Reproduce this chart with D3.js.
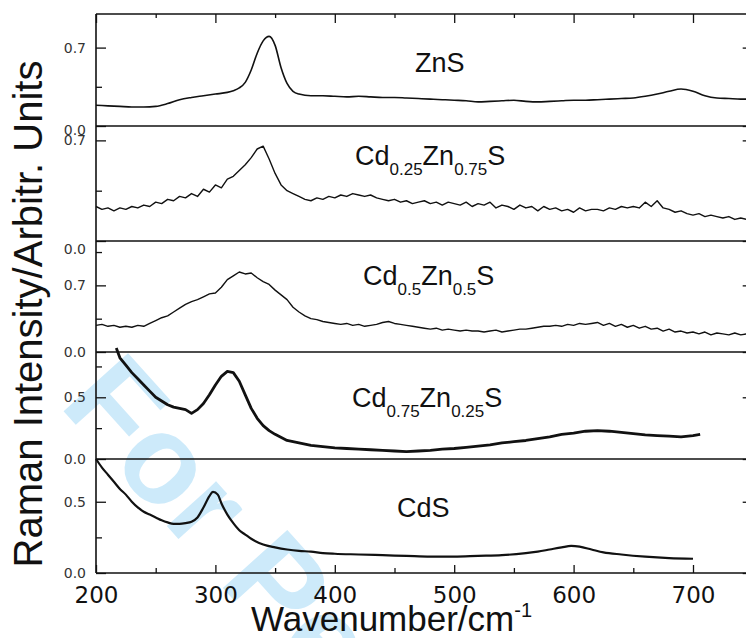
<!DOCTYPE html>
<html>
<head>
<meta charset="utf-8">
<script src="https://cdn.jsdelivr.net/npm/d3@7"></script>
<style>
body { margin: 0; overflow: hidden; background: white; }
</style>
</head>
<body>
<script>
// spectra, [wavenumber, intensity]
const zns = [[200,.185],[210,.18],[220,.175],[230,.17],[240,.17],[250,.175],[260,.2],[270,.235],[280,.255],[290,.27],[300,.285],[310,.3],[315,.315],[320,.34],[325,.39],[330,.5],[335,.65],[340,.76],[345,.8],[350,.72],[355,.52],[360,.38],[365,.31],[370,.285],[380,.27],[390,.27],[400,.265],[410,.26],[420,.265],[430,.26],[440,.255],[450,.255],[460,.25],[470,.245],[480,.24],[490,.235],[500,.23],[510,.225],[520,.215],[530,.22],[540,.225],[550,.23],[560,.22],[570,.215],[580,.22],[590,.225],[600,.23],[610,.23],[620,.235],[630,.24],[640,.245],[650,.25],[660,.265],[670,.285],[680,.31],[690,.33],[700,.31],[710,.27],[720,.25],[730,.245],[740,.24],[750,.24]];

const cd25 = [[200,.24],[205,.22],[210,.23],[215,.21],[220,.23],[225,.22],[230,.24],[235,.23],[240,.25],[245,.24],[250,.27],[255,.26],[260,.29],[265,.28],[270,.31],[275,.30],[280,.33],[285,.31],[290,.36],[295,.34],[300,.39],[305,.37],[310,.43],[315,.45],[320,.49],[325,.53],[330,.58],[335,.64],[340,.66],[345,.57],[350,.47],[355,.39],[360,.35],[365,.33],[370,.31],[375,.29],[380,.28],[385,.30],[390,.29],[395,.31],[400,.30],[405,.32],[410,.31],[415,.33],[420,.32],[425,.31],[430,.32],[435,.30],[440,.29],[445,.28],[450,.29],[455,.27],[460,.28],[465,.26],[470,.27],[475,.28],[480,.26],[485,.27],[490,.25],[495,.27],[500,.26],[505,.25],[510,.27],[515,.24],[520,.26],[525,.25],[530,.27],[535,.23],[540,.25],[545,.24],[550,.22],[555,.25],[560,.23],[565,.24],[570,.21],[575,.24],[580,.22],[585,.23],[590,.21],[595,.22],[600,.20],[605,.23],[610,.21],[615,.22],[620,.22],[625,.21],[630,.23],[635,.22],[640,.24],[645,.23],[650,.24],[655,.23],[660,.27],[665,.24],[670,.28],[675,.23],[680,.22],[685,.20],[690,.21],[695,.19],[700,.18],[705,.19],[710,.17],[715,.18],[720,.17],[725,.16],[730,.17],[735,.15],[740,.16],[745,.15],[750,.15]];

const cd50 = [[200,.28],[205,.29],[210,.27],[215,.28],[220,.26],[225,.27],[230,.26],[235,.28],[240,.27],[245,.30],[250,.33],[255,.36],[260,.38],[265,.42],[270,.46],[275,.50],[280,.53],[285,.55],[290,.58],[295,.61],[300,.62],[305,.68],[310,.76],[315,.80],[320,.84],[325,.82],[330,.83],[335,.78],[340,.74],[345,.71],[350,.65],[355,.60],[360,.55],[365,.47],[370,.42],[375,.38],[380,.35],[385,.34],[390,.32],[395,.31],[400,.30],[405,.29],[410,.30],[415,.28],[420,.29],[425,.27],[430,.28],[435,.29],[440,.31],[445,.32],[450,.30],[455,.29],[460,.28],[465,.27],[470,.26],[475,.25],[480,.24],[485,.25],[490,.23],[495,.24],[500,.23],[505,.22],[510,.23],[515,.22],[520,.22],[525,.21],[530,.22],[535,.23],[540,.21],[545,.22],[550,.23],[555,.24],[560,.24],[565,.25],[570,.26],[575,.27],[580,.27],[585,.28],[590,.27],[595,.29],[600,.28],[605,.30],[610,.29],[615,.30],[620,.31],[625,.28],[630,.30],[635,.27],[640,.29],[645,.26],[650,.28],[655,.25],[660,.27],[665,.24],[670,.25],[675,.22],[680,.24],[685,.21],[690,.22],[695,.20],[700,.21],[705,.19],[710,.21],[715,.18],[720,.20],[725,.19],[730,.18],[735,.20],[740,.18],[745,.19],[750,.18]];

const cd75 = [[217,.9],[220,.82],[225,.76],[230,.70],[235,.65],[240,.60],[245,.55],[250,.50],[255,.47],[260,.44],[265,.42],[270,.41],[275,.40],[280,.37],[285,.40],[290,.45],[295,.52],[300,.60],[305,.67],[310,.71],[315,.70],[320,.63],[325,.52],[330,.41],[335,.33],[340,.27],[345,.23],[350,.20],[360,.15],[370,.13],[380,.11],[390,.10],[400,.09],[410,.085],[420,.08],[430,.075],[440,.07],[450,.065],[460,.06],[470,.065],[480,.07],[490,.08],[500,.085],[510,.095],[520,.105],[530,.115],[540,.13],[550,.14],[560,.15],[570,.165],[580,.18],[590,.20],[600,.21],[610,.225],[620,.23],[630,.225],[640,.215],[650,.205],[660,.195],[670,.19],[680,.185],[690,.18],[700,.19],[706,.2]];

const cds = [[200,.80],[205,.74],[210,.69],[215,.64],[220,.59],[225,.55],[230,.50],[235,.46],[240,.43],[245,.41],[250,.39],[255,.37],[260,.355],[265,.345],[270,.345],[275,.35],[280,.36],[285,.39],[290,.46],[295,.54],[298,.57],[302,.55],[305,.49],[310,.41],[315,.35],[320,.30],[325,.27],[330,.24],[340,.20],[350,.18],[360,.165],[370,.155],[380,.15],[390,.14],[400,.135],[420,.13],[440,.125],[460,.12],[480,.115],[500,.115],[520,.12],[540,.125],[560,.14],[570,.15],[580,.165],[590,.18],[598,.19],[605,.185],[615,.165],[625,.145],[640,.13],[660,.115],[680,.105],[700,.10]];

const series = [zns, cd25, cd50, cd75, cds];

// label pieces: [text, isSubscript]
const labels = [
    [["ZnS", 0]],
    [["Cd", 0], ["0.25", 1], ["Zn", 0], ["0.75", 1], ["S", 0]],
    [["Cd", 0], ["0.5", 1], ["Zn", 0], ["0.5", 1], ["S", 0]],
    [["Cd", 0], ["0.75", 1], ["Zn", 0], ["0.25", 1], ["S", 0]],
    [["CdS", 0]]
];

const yMax = [1.0, 0.8, 1.166, 0.867, 0.8];
const yMajor = [[0, 0.7], [0, 0.7], [0, 0.7], [0, 0.5], [0, 0.5]];
const yMinor = [[0.35], [0.35], [0.35, 1.05], [0.25, 0.75], [0.25]];
const xMajor = [200, 300, 400, 500, 600, 700];
const xMinor = [250, 350, 450, 550, 650];

const width = 746, height = 638;
const svg = d3.select("body")
    .append("svg")
    .attr("width", width)
    .attr("height", height)
    .style("background-color", "white");

const edges = [14, 126, 241, 352, 459, 573];
const left = 96;
const x = d3.scaleLinear().domain([200, 750]).range([left, 752.7]);

// watermark
svg.append("text")
    .attr("transform", "translate(58,405) rotate(48)")
    .attr("font-family", "Liberation Sans, Arial, sans-serif")
    .attr("font-weight", "bold")
    .attr("font-size", 126)
    .attr("fill", "#cdeafa")
    .text("For Peer Review");

const strokeW = [1.6, 1.4, 1.4, 2.8, 2.2];
const curves = [d3.curveMonotoneX, d3.curveLinear, d3.curveLinear, d3.curveLinear, d3.curveMonotoneX];
const labelPos = [[415, 72], [355, 165], [363, 285], [352, 407], [397, 517]];
const zeroShift = [4, 8, 0, 0, 0];

const fixTicks = g => {
    g.select(".domain").remove();
    g.selectAll("line").attr("stroke", "#111").attr("stroke-width", 1.3);
};

series.forEach((data, i) => {
    const y = d3.scaleLinear().domain([0, yMax[i]]).range([edges[i + 1], edges[i]]);

    svg.append("g")
        .attr("transform", `translate(${left},0)`)
        .call(d3.axisLeft(y).tickValues(yMajor[i]).tickSize(-10).tickPadding(10).tickFormat(d3.format(".1f")))
        .attr("font-family", "DejaVu Sans, sans-serif")
        .attr("font-size", 14)
        .call(fixTicks)
        .call(g => g.selectAll("text")
            .attr("fill", "#333")
            .attr("transform", d => d === 0 ? `translate(0,${zeroShift[i]})` : null));

    svg.append("g")
        .attr("transform", `translate(${left},0)`)
        .call(d3.axisLeft(y).tickValues(yMinor[i]).tickSize(-6).tickFormat(""))
        .call(fixTicks);

    svg.append("g")
        .attr("transform", `translate(${x(750)},0)`)
        .call(d3.axisRight(y).tickValues(yMajor[i]).tickSize(-10).tickFormat(""))
        .call(fixTicks);

    const line = d3.line()
        .x(d => x(d[0]))
        .y(d => y(d[1]))
        .curve(curves[i]);

    svg.append("path")
        .attr("d", line(data))
        .attr("fill", "none")
        .attr("stroke", "#111")
        .attr("stroke-width", strokeW[i])
        .attr("stroke-linejoin", "round");

    const t = svg.append("text")
        .attr("x", labelPos[i][0])
        .attr("y", labelPos[i][1])
        .attr("font-family", "Liberation Sans, Arial, sans-serif")
        .attr("font-size", 27)
        .attr("fill", "#111");
    labels[i].forEach((p, k) => {
        const prevSub = k > 0 && labels[i][k - 1][1];
        t.append("tspan")
            .attr("font-size", p[1] ? 17 : 27)
            .attr("dy", p[1] ? 10 : (prevSub ? -10 : 0))
            .text(p[0]);
    });
});

// panel separators and frame
edges.forEach(e => {
    svg.append("line")
        .attr("x1", left)
        .attr("x2", x(750))
        .attr("y1", e)
        .attr("y2", e)
        .attr("stroke", "#111")
        .attr("stroke-width", 1.6);
});
svg.append("line")
    .attr("x1", left).attr("x2", left)
    .attr("y1", edges[0]).attr("y2", edges[5])
    .attr("stroke", "#111")
    .attr("stroke-width", 1.6);

// x axes
svg.append("g")
    .attr("transform", `translate(0,${edges[5]})`)
    .call(d3.axisBottom(x).tickValues(xMajor).tickSize(-8).tickPadding(14).tickFormat(d3.format("d")))
    .attr("font-family", "DejaVu Sans, sans-serif")
    .attr("font-size", 23)
    .call(fixTicks)
    .call(g => g.selectAll("text").attr("fill", "#111"));
svg.append("g")
    .attr("transform", `translate(0,${edges[5]})`)
    .call(d3.axisBottom(x).tickValues(xMinor).tickSize(-5).tickFormat(""))
    .call(fixTicks);
svg.append("g")
    .attr("transform", `translate(0,${edges[0]})`)
    .call(d3.axisTop(x).tickValues(xMajor).tickSize(-9).tickFormat(""))
    .call(fixTicks);
svg.append("g")
    .attr("transform", `translate(0,${edges[0]})`)
    .call(d3.axisTop(x).tickValues(xMinor).tickSize(-4).tickFormat(""))
    .call(fixTicks);

// axis titles
const xt = svg.append("text")
    .attr("x", 251)
    .attr("y", 631)
    .attr("font-family", "Liberation Sans, Arial, sans-serif")
    .attr("font-size", 35)
    .attr("fill", "#111")
    .text("Wavenumber/cm");
xt.append("tspan")
    .attr("font-size", 20)
    .attr("dy", -14)
    .text("-1");

svg.append("text")
    .attr("transform", "translate(42,314) rotate(-90)")
    .attr("text-anchor", "middle")
    .attr("font-family", "Liberation Sans, Arial, sans-serif")
    .attr("font-size", 40)
    .attr("fill", "#111")
    .text("Raman Intensity/Arbitr. Units");
</script>
</body>
</html>
